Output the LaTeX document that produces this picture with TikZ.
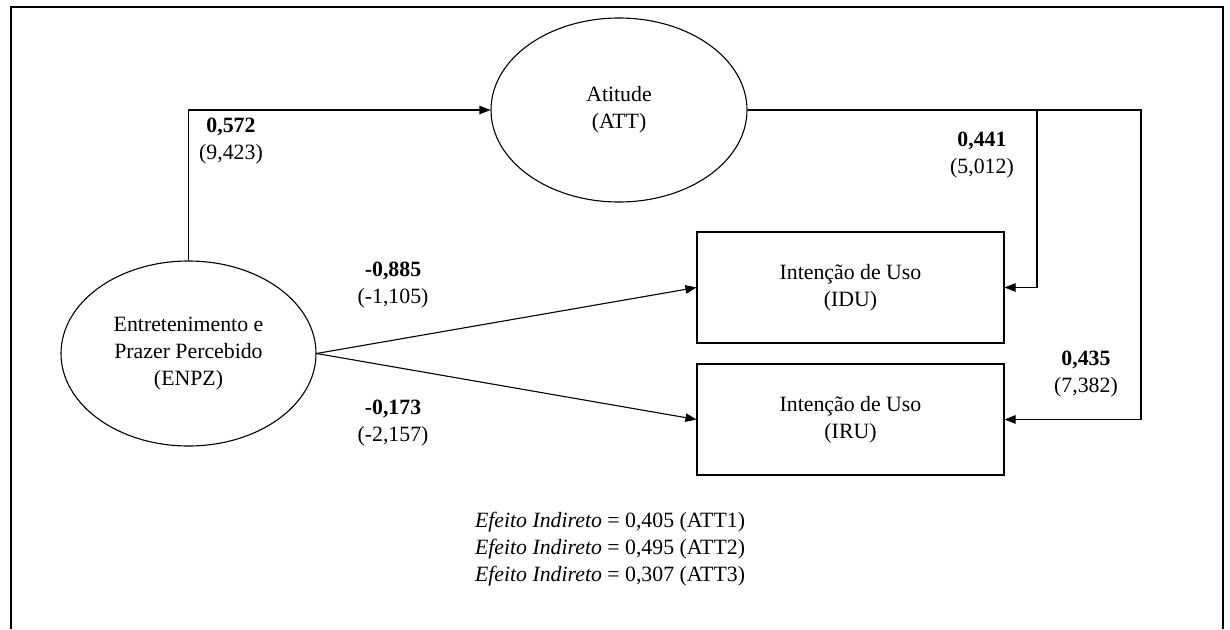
\documentclass[tikz,border=0pt]{standalone}
\usepackage{fontspec}
\setmainfont{Liberation Serif}
\usetikzlibrary{arrows.meta,shapes.geometric}

\tikzset{
  txt/.style={font=\fontsize{21.8}{27}\selectfont, align=center, inner sep=0pt,
              execute at begin node={\rule{0pt}{21pt}}},
  latent/.style={draw, ellipse, line width=1.1pt, inner sep=0pt, txt},
  construct/.style={draw, rectangle, line width=1.1pt, inner sep=0pt, txt},
  path arrow/.style={draw, line width=1.1pt, -{Triangle[length=11pt,width=8.5pt]}},
  coef/.style={txt},
  frame line/.style={line width=2.6pt}
}

\begin{document}
\begin{tikzpicture}[x=1pt, y=-1pt]
  \useasboundingbox[fill=white] (0,0) rectangle (1230,629);

  % open frame around the model
  \draw[frame line] (11,629) -- (11,7) -- (1223,7) -- (1223,629);

  % constructs
  \node[latent, minimum width=256pt, minimum height=184pt] (att) at (619,110) {Atitude\\(ATT)};
  \node[latent, minimum width=255pt, minimum height=185pt] (enpz) at (188.5,353.5)
       {Entretenimento e\\Prazer Percebido\\(ENPZ)};
  \node[construct, minimum width=307pt, minimum height=111pt] (idu) at (850.5,287.5)
       {Intenção de Uso\\(IDU)};
  \node[construct, minimum width=307pt, minimum height=111pt] (iru) at (850.5,419.5)
       {Intenção de Uso\\(IRU)};

  % corner points of the routed paths
  \coordinate (split) at (1037,110);
  \coordinate (outer) at (1141,110);

  % structural paths
  \path[path arrow] (enpz.north) |- (att.west);
  \path[path arrow] (enpz.east) -- (idu.west);
  \path[path arrow] (enpz.east) -- (iru.west);
  \path[path arrow] (att.east) -- (outer) |- (iru.east);
  \path[path arrow] (split) |- (idu.east);

  % path coefficients (t values)
  \node[coef] (c572) at (231,141.5) {\textbf{0,572}\\(9,423)};
  \node[coef] (c441) at (982,155) {\textbf{0,441}\\(5,012)};
  \node[coef] (c435) at (1086,374.5) {\textbf{0,435}\\(7,382)};
  \node[coef] (c885) at (393,285) {\textbf{-0,885}\\(-1,105)};
  \node[coef] (c173) at (393,423) {\textbf{-0,173}\\(-2,157)};

  % indirect effects
  \node[txt] (indirect) at (610,549)
       {\textit{Efeito Indireto} = 0,405 (ATT1)\\
        \textit{Efeito Indireto} = 0,495 (ATT2)\\
        \textit{Efeito Indireto} = 0,307 (ATT3)};
\end{tikzpicture}
\end{document}
